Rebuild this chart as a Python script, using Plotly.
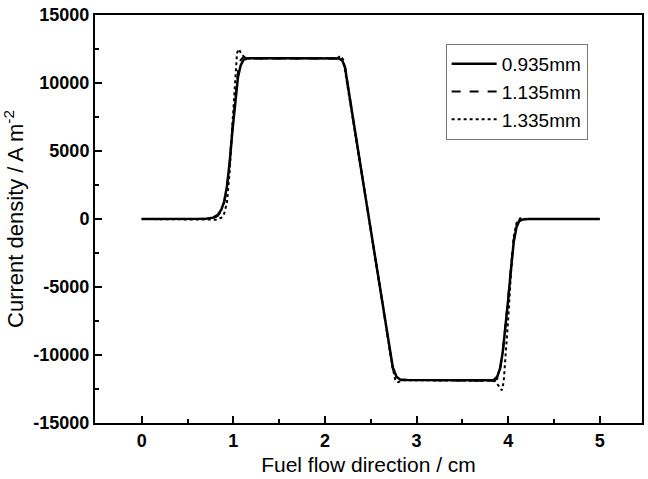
import plotly.graph_objects as go

series_names = ["0.935mm", "1.135mm", "1.335mm"]

x_tickvals = [0, 1, 2, 3, 4, 5]
x_ticktext = ["0", "1", "2", "3", "4", "5"]
y_tickvals = [-15000, -10000, -5000, 0, 5000, 10000, 15000]
y_ticktext = ["-15000", "-10000", "-5000", "0", "5000", "10000", "15000"]

x_a = [0, 0.5, 0.7, 0.78, 0.83, 0.87, 0.9, 0.93, 0.96, 0.99, 1.02, 1.05, 1.08, 1.11, 1.15, 1.2, 1.6, 2.0, 2.15, 2.19, 2.22, 2.25, 2.3, 2.4, 2.5, 2.6, 2.7, 2.74, 2.78, 2.82, 2.9, 3.3, 3.7, 3.84, 3.88, 3.91, 3.94, 3.97, 4.0, 4.03, 4.06, 4.09, 4.12, 4.16, 4.22, 4.4, 5.0]
y_a = [0, 0, 20, 100, 300, 700, 1300, 2400, 4200, 6500, 8700, 10400, 11300, 11700, 11800, 11820, 11820, 11820, 11800, 11650, 11100, 9800, 7600, 3400, -800, -5000, -9300, -10900, -11600, -11800, -11830, -11850, -11870, -11850, -11600, -11000, -9800, -8000, -5900, -3700, -1700, -600, -150, -30, 0, 0, 0]

x_b = x_a
y_b = [0, 0, 10, 60, 220, 600, 1200, 2300, 4200, 6700, 9000, 10800, 11700, 11900, 11820, 11800, 11800, 11800, 11800, 11700, 11150, 9800, 7600, 3400, -800, -5000, -9300, -11000, -11700, -11850, -11830, -11850, -11870, -11900, -11750, -11100, -9800, -7900, -5800, -3500, -1500, -500, -120, -20, 0, 0, 0]

x_c = [0, 0.5, 0.75, 0.82, 0.87, 0.9, 0.93, 0.96, 0.99, 1.02, 1.04, 1.06, 1.09, 1.13, 1.2, 1.6, 2.0, 2.14, 2.17, 2.2, 2.24, 2.3, 2.4, 2.5, 2.6, 2.7, 2.74, 2.77, 2.8, 2.85, 3.3, 3.7, 3.85, 3.9, 3.93, 3.95, 3.98, 4.0, 4.03, 4.06, 4.09, 4.13, 4.2, 4.4, 5.0]
y_c = [0, 0, 0, -50, 100, 400, 1200, 3500, 7000, 10500, 12200, 12500, 12100, 11850, 11800, 11800, 11800, 11850, 12000, 11700, 10000, 7600, 3400, -800, -5000, -9300, -11000, -11900, -12000, -11850, -11850, -11850, -11900, -12300, -12600, -12000, -9500, -7300, -4000, -1300, -300, 50, 0, 0, 0]

assert len(x_a) == len(y_a) and len(x_b) == len(y_b) and len(x_c) == len(y_c)

FONT = "Liberation Sans, Arial, sans-serif"

fig = go.Figure()
fig.add_trace(go.Scatter(x=x_a, y=y_a, mode="lines", name=series_names[0],
                         line=dict(color="black", width=2.5, dash="solid")))
fig.add_trace(go.Scatter(x=x_b, y=y_b, mode="lines", name=series_names[1],
                         line=dict(color="black", width=2, dash="dash")))
fig.add_trace(go.Scatter(x=x_c, y=y_c, mode="lines", name=series_names[2],
                         line=dict(color="black", width=2, dash="dot")))

axis_common = dict(
    showline=True, linecolor="black", linewidth=2, mirror=True,
    showgrid=False, zeroline=False,
    ticks="inside", ticklen=7, tickwidth=1.5, tickcolor="black",
    tickfont=dict(family=FONT, size=18, color="black", weight="bold"),
)

fig.update_layout(
    width=648, height=479,
    margin=dict(l=95, r=4, t=15, b=56),
    paper_bgcolor="white", plot_bgcolor="white",
    showlegend=True,
    legend=dict(
        x=0.641, y=0.929, xanchor="left", yanchor="top",
        bordercolor="#777", borderwidth=1, bgcolor="white",
        font=dict(family=FONT, size=19, color="black"),
        tracegroupgap=0, itemwidth=45,
    ),
    xaxis=dict(
        range=[-0.51, 5.46], tickmode="array", tickvals=x_tickvals, ticktext=x_ticktext,
        minor=dict(ticks="inside", ticklen=4, dtick=0.5, tick0=0, tickcolor="black", tickwidth=1.5),
        title=dict(text="Fuel flow direction / cm", font=dict(family=FONT, size=21, color="black"), standoff=8),
        **axis_common,
    ),
    yaxis=dict(
        range=[-15000, 15000], tickmode="array", tickvals=y_tickvals, ticktext=y_ticktext,
        minor=dict(ticks="inside", ticklen=4, dtick=2500, tick0=0, tickcolor="black", tickwidth=1.5),
        title=dict(text="Current density / A m<sup>-2</sup>", font=dict(family=FONT, size=22, color="black"), standoff=4),
        **axis_common,
    ),
)

fig.write_html("out.html")
